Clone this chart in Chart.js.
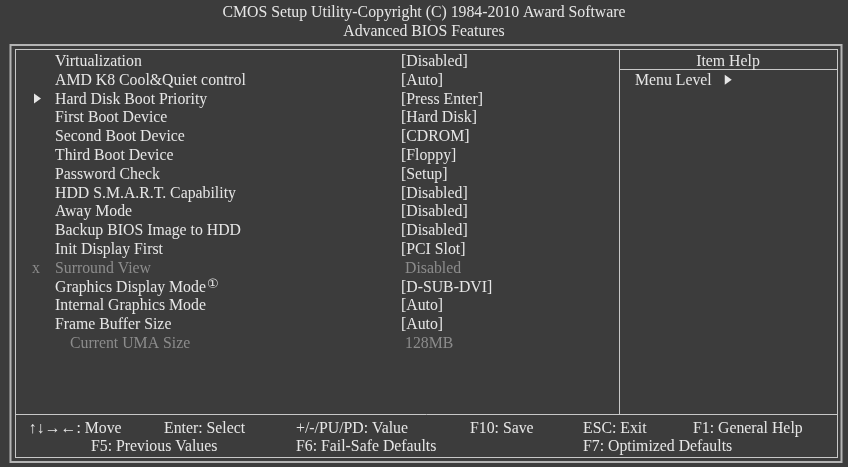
<!DOCTYPE html>
<html>
<head>
<meta charset="utf-8">
<script src="https://cdn.jsdelivr.net/npm/chart.js@4.4.1/dist/chart.umd.min.js"></script>
<style>
  html, body { margin: 0; padding: 0; background: #3c3c3c; }
  #wrap { width: 848px; height: 467px; }
</style>
</head>
<body>
<div id="wrap"><canvas id="bios" width="848" height="467"></canvas></div>
<script>
// screen texts
const titleLines = ['CMOS Setup Utility-Copyright (C) 1984-2010 Award Software', 'Advanced BIOS Features'];

const itemLabels = [
    'Virtualization', 'AMD K8 Cool&Quiet control', 'Hard Disk Boot Priority', 'First Boot Device',
    'Second Boot Device', 'Third Boot Device', 'Password Check', 'HDD S.M.A.R.T. Capability',
    'Away Mode', 'Backup BIOS Image to HDD', 'Init Display First', 'Surround View',
    'Graphics Display Mode', 'Internal Graphics Mode', 'Frame Buffer Size', 'Current UMA Size'
];
const itemValues = [
    '[Disabled]', '[Auto]', '[Press Enter]', '[Hard Disk]',
    '[CDROM]', '[Floppy]', '[Setup]', '[Disabled]',
    '[Disabled]', '[Disabled]', '[PCI Slot]', 'Disabled',
    '[D-SUB-DVI]', '[Auto]', '[Auto]', '128MB'
];
// '' normal, 'sub' submenu arrow, 'off' locked (x), 'note' footnote mark, 'info' read only
const itemKinds = [
    '', '', 'sub', '', '', '', '', '', '', '', '', 'off', 'note', '', '', 'info'
];

const helpTitle = 'Item Help';
const helpLines = ['Menu Level'];

const footRow1 = ['\u2191\u2193\u2192\u2190: Move', 'Enter: Select', '+/-/PU/PD: Value', 'F10: Save', 'ESC: Exit', 'F1: General Help'];
const footRow2 = ['F5: Previous Values', 'F6: Fail-Safe Defaults', 'F7: Optimized Defaults'];

// layout (screen units)
const ROW_Y0 = 61, ROW_H = 18.78;
const LABEL_X = 55, VALUE_X = 401, MARK_X = 32;
const foot1X = [29, 164, 296, 470, 583, 693];
const foot2X = [91, 296, 583];
const FOOT_Y1 = 428, FOOT_Y2 = 446;

const FONT = '"Liberation Serif", "Times New Roman", serif';
const FONT_SIZE = 15.8;
const TEXT = '#e6e6e6';
const DIM = '#8c8c8c';
const LINE = '#c8c8c8';

function textPoints(list, xs, y) {
    return list.map((t, i) => ({ x: xs[i], y: y, t: t }));
}

const labelPts = itemLabels.map((t, i) => ({
    x: itemKinds[i] === 'info' ? LABEL_X + 15 : LABEL_X,
    y: ROW_Y0 + i * ROW_H, t: t, kind: itemKinds[i]
}));
const valuePts = itemValues.map((t, i) => ({
    x: (itemKinds[i] === 'off' || itemKinds[i] === 'info') ? VALUE_X + 4 : VALUE_X,
    y: ROW_Y0 + i * ROW_H, t: t, kind: itemKinds[i]
}));
const footPts = textPoints(footRow1, foot1X, FOOT_Y1).concat(textPoints(footRow2, foot2X, FOOT_Y2));
const titlePts = titleLines.map((t, i) => ({ x: 424, y: 12 + i * 19, t: t, center: true }));
const helpPts = [{ x: 728, y: ROW_Y0, t: helpTitle, center: true }]
    .concat(helpLines.map((t, i) => ({ x: 635, y: ROW_Y0 + (i + 1) * ROW_H, t: t, kind: 'menu' })));

// frame drawn in scale units
const framePlugin = {
    id: 'frame',
    beforeDatasetsDraw(chart) {
        const { ctx, scales: { x, y } } = chart;
        const px = v => Math.round(x.getPixelForValue(v)) + 0.5;
        const py = v => Math.round(y.getPixelForValue(v)) + 0.5;
        ctx.save();
        ctx.strokeStyle = '#b4b4b4';
        ctx.lineWidth = 2;
        ctx.strokeRect(x.getPixelForValue(10.5), y.getPixelForValue(45), 831, 417);
        ctx.strokeStyle = LINE;
        ctx.lineWidth = 1;
        ctx.strokeRect(px(15), py(49), 822, 408);
        ctx.beginPath();
        ctx.moveTo(px(15), py(414)); ctx.lineTo(px(837), py(414));
        ctx.moveTo(px(619), py(49)); ctx.lineTo(px(619), py(414));
        ctx.moveTo(px(619), py(69)); ctx.lineTo(px(837), py(69));
        ctx.stroke();
        ctx.restore();
    }
};

function arrow(ctx, cx, cy, color) {
    ctx.fillStyle = color;
    ctx.beginPath();
    ctx.moveTo(cx - 3, cy - 5);
    ctx.lineTo(cx + 4, cy);
    ctx.lineTo(cx - 3, cy + 5);
    ctx.closePath();
    ctx.fill();
}

// text attached to each point
const textPlugin = {
    id: 'texts',
    afterDatasetsDraw(chart) {
        const { ctx } = chart;
        ctx.save();
        ctx.textBaseline = 'middle';
        chart.data.datasets.forEach((ds, di) => {
            const meta = chart.getDatasetMeta(di);
            meta.data.forEach((el, i) => {
                const p = ds.data[i];
                const dim = p.kind === 'off' || p.kind === 'info';
                ctx.font = FONT_SIZE + 'px ' + FONT;
                ctx.fillStyle = dim ? DIM : TEXT;
                ctx.textAlign = p.center ? 'center' : 'left';
                ctx.fillText(p.t, el.x, el.y + 1);
                if (ds.role !== 'label' && p.kind !== 'menu') return;
                const w = ctx.measureText(p.t).width;
                if (p.kind === 'sub') arrow(ctx, chart.scales.x.getPixelForValue(MARK_X) + 5, el.y, TEXT);
                if (p.kind === 'menu') arrow(ctx, el.x + w + 16, el.y, TEXT);
                if (p.kind === 'off') {
                    ctx.fillStyle = DIM;
                    ctx.fillText('x', chart.scales.x.getPixelForValue(MARK_X), el.y + 1);
                }
                if (p.kind === 'note') {
                    ctx.font = '13px "DejaVu Sans", sans-serif';
                    ctx.fillText('\u2460', el.x + w + 1, el.y - 2);
                }
            });
        });
        ctx.restore();
    }
};

const pointStyle = { showLine: false, pointRadius: 0, pointHoverRadius: 0 };

new Chart(document.getElementById('bios'), {
    type: 'scatter',
    data: {
        datasets: [
            Object.assign({ role: 'title', data: titlePts }, pointStyle),
            Object.assign({ role: 'label', data: labelPts }, pointStyle),
            Object.assign({ role: 'value', data: valuePts }, pointStyle),
            Object.assign({ role: 'help', data: helpPts }, pointStyle),
            Object.assign({ role: 'foot', data: footPts }, pointStyle)
        ]
    },
    options: {
        responsive: false,
        animation: false,
        events: [],
        layout: { padding: 0 },
        plugins: { legend: { display: false }, tooltip: { enabled: false } },
        scales: {
            x: { type: 'linear', min: 0, max: 848, display: false },
            y: { type: 'linear', min: 0, max: 467, reverse: true, display: false }
        }
    },
    plugins: [framePlugin, textPlugin]
});
</script>
</body>
</html>
